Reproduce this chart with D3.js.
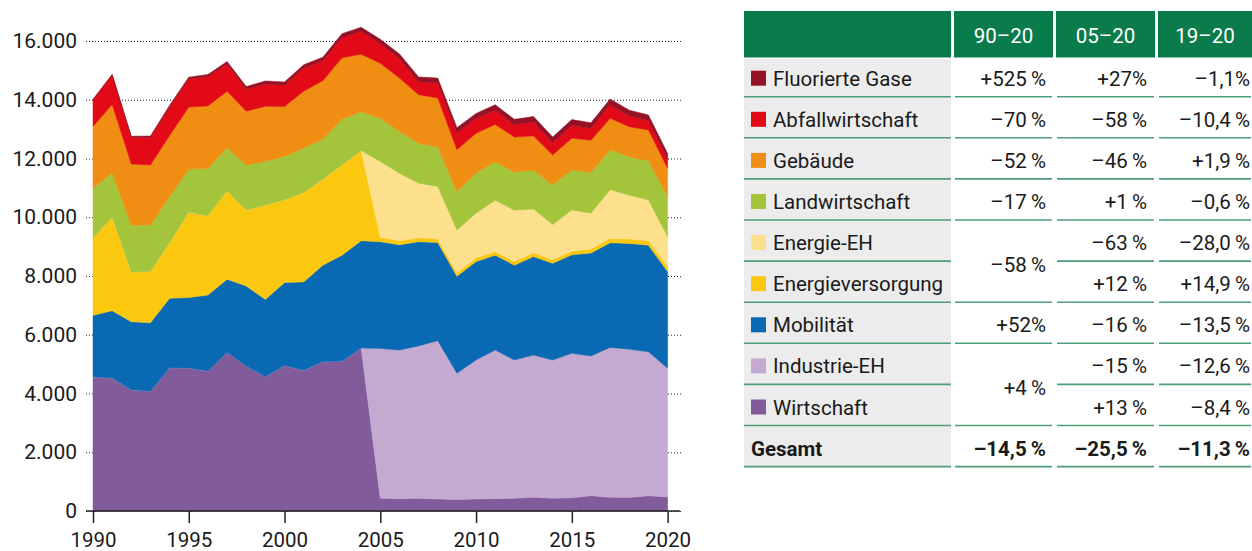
<!DOCTYPE html>
<html>
<head>
<meta charset="utf-8">
<script src="https://cdn.jsdelivr.net/npm/d3@7"></script>
<style>
  body { margin: 0; background: #fff; }
  svg text { font-family: Roboto, "Noto Sans", sans-serif; fill: #1a1a1a; }
</style>
</head>
<body>
<div id="chart"></div>
<script>
// years on the x axis
var years = [1990, 1991, 1992, 1993, 1994, 1995, 1996, 1997, 1998, 1999, 2000,
  2001, 2002, 2003, 2004, 2005, 2006, 2007, 2008, 2009, 2010,
  2011, 2012, 2013, 2014, 2015, 2016, 2017, 2018, 2019, 2020];

// emissions per sector (bottom to top of the stack)
var wirtschaft = [4570, 4530, 4130, 4080, 4880, 4870, 4770, 5400, 4940, 4570, 4950,
  4790, 5080, 5100, 5550, 430, 420, 430, 410, 390, 410,
  420, 430, 470, 430, 450, 520, 470, 460, 520, 480];
var industrieEH = [0, 0, 0, 0, 0, 0, 0, 0, 0, 0, 0,
  0, 0, 0, 0, 5100, 5060, 5190, 5390, 4300, 4730,
  5060, 4710, 4840, 4710, 4920, 4760, 5100, 5050, 4900, 4380];
var mobilitaet = [2090, 2290, 2310, 2330, 2360, 2400, 2580, 2490, 2720, 2630, 2830,
  3010, 3290, 3610, 3650, 3640, 3580, 3550, 3340, 3300, 3350,
  3230, 3230, 3350, 3290, 3350, 3500, 3560, 3600, 3630, 3290];
var energieversorgung = [2630, 3180, 1700, 1740, 1900, 2890, 2700, 3010, 2590, 3210, 2810,
  3040, 2920, 3070, 3070, 150, 140, 130, 130, 120, 130,
  120, 120, 130, 120, 130, 140, 150, 150, 150, 170];
var energieEH = [0, 0, 0, 0, 0, 0, 0, 0, 0, 0, 0,
  0, 0, 0, 0, 2580, 2300, 1860, 1780, 1460, 1520,
  1750, 1750, 1490, 1200, 1400, 1220, 1660, 1490, 1390, 1020];
var landwirtschaft = [1690, 1510, 1590, 1590, 1560, 1480, 1610, 1470, 1530, 1500, 1480,
  1510, 1370, 1560, 1320, 1470, 1420, 1360, 1340, 1310, 1360,
  1310, 1300, 1320, 1350, 1360, 1390, 1360, 1310, 1330, 1360];
var gebaeude = [2110, 2330, 2080, 2040, 2080, 2110, 2130, 1920, 1830, 1870, 1700,
  1940, 1990, 2090, 1960, 1870, 1820, 1650, 1670, 1420, 1360,
  1270, 1190, 1170, 1020, 1080, 1090, 1070, 1020, 1050, 970];
var abfall = [900, 990, 910, 940, 980, 960, 1000, 930, 750, 760, 730,
  790, 680, 690, 780, 670, 660, 440, 510, 580, 500,
  490, 420, 470, 420, 440, 400, 460, 370, 320, 310];
var fgase = [30, 35, 40, 45, 50, 60, 70, 80, 90, 100, 105,
  110, 120, 130, 140, 150, 160, 165, 170, 170, 175,
  180, 185, 190, 190, 195, 195, 195, 195, 190, 190];

// tick values
var yTicks = [0, 2000, 4000, 6000, 8000, 10000, 12000, 14000, 16000];
var xTicks = [1990, 1995, 2000, 2005, 2010, 2015, 2020];

// table contents
var tableHeads = ["90–20", "05–20", "19–20"];
var tableLabels = ["Fluorierte Gase", "Abfallwirtschaft", "Gebäude", "Landwirtschaft",
  "Energie-EH", "Energieversorgung", "Mobilität", "Industrie-EH", "Wirtschaft"];
var change9020 = ["+525\u2009%", "–70\u2009%", "–52\u2009%", "–17\u2009%", "–58\u2009%", null, "+52%", "+4\u2009%", null];
var change0520 = ["+27%", "–58\u2009%", "–46\u2009%", "+1\u2009%", "–63\u2009%", "+12\u2009%", "–16\u2009%", "–15\u2009%", "+13\u2009%"];
var change1920 = ["–1,1%", "–10,4\u2009%", "+1,9\u2009%", "–0,6\u2009%", "–28,0\u2009%", "+14,9\u2009%", "–13,5\u2009%", "–12,6\u2009%", "–8,4\u2009%"];
var totalLabel = "Gesamt";
var totalChange = ["–14,5\u2009%", "–25,5\u2009%", "–11,3\u2009%"];

// stack keys and colours
var keys = ["wirtschaft", "industrieEH", "mobilitaet", "energieversorgung", "energieEH",
  "landwirtschaft", "gebaeude", "abfall", "fgase"];
var colors = {
  wirtschaft: "#825b9a",
  industrieEH: "#c4aad0",
  mobilitaet: "#0a69b3",
  energieversorgung: "#fcc70f",
  energieEH: "#fde08c",
  landwirtschaft: "#a4c43c",
  gebaeude: "#f08e13",
  abfall: "#e20a17",
  fgase: "#941126"
};
// table order is top of stack first
var tableColors = ["#941126", "#e20a17", "#f08e13", "#a4c43c", "#fde08c", "#fcc70f", "#0a69b3", "#c4aad0", "#825b9a"];

var svgWidth = 1252;
var svgHeight = 551;

var svg = d3.select("#chart")
  .append("svg")
  .attr("width", svgWidth)
  .attr("height", svgHeight);

// building rows for the stack
var rows = years.map(function(yr, i) {
  return {
    year: yr,
    wirtschaft: wirtschaft[i],
    industrieEH: industrieEH[i],
    mobilitaet: mobilitaet[i],
    energieversorgung: energieversorgung[i],
    energieEH: energieEH[i],
    landwirtschaft: landwirtschaft[i],
    gebaeude: gebaeude[i],
    abfall: abfall[i],
    fgase: fgase[i]
  };
});

var series = d3.stack().keys(keys)(rows);

var x = d3.scaleLinear().domain([1990, 2020]).range([93, 667.6]);
var y = d3.scaleLinear().domain([0, 16000]).range([511, 41]);

var de = d3.formatLocale({ decimal: ",", thousands: ".", grouping: [3], currency: ["", " €"] });

// dotted gridlines + y labels
var yAxis = svg.append("g")
  .attr("transform", "translate(681,0)")
  .call(d3.axisLeft(y)
    .tickValues(yTicks)
    .tickSize(597)
    .tickPadding(7)
    .tickFormat(de.format(",d")));
yAxis.select(".domain").remove();
yAxis.selectAll(".tick line")
  .attr("stroke", "#222")
  .attr("stroke-dasharray", "1,2");
yAxis.selectAll(".tick text")
  .attr("font-size", "21px")
  .attr("font-family", "Roboto, sans-serif")
  .attr("fill", "#1a1a1a");

// stacked areas
var area = d3.area()
  .x(function(d) { return x(d.data.year); })
  .y0(function(d) { return y(d[0]); })
  .y1(function(d) { return y(d[1]); });

svg.append("g")
  .selectAll("path")
  .data(series)
  .enter()
  .append("path")
  .attr("d", area)
  .attr("fill", function(d) { return colors[d.key]; })
  .attr("stroke", function(d) { return colors[d.key]; })
  .attr("stroke-width", 0.5);

// x axis
svg.append("line")
  .attr("x1", 86)
  .attr("x2", 680)
  .attr("y1", y(0))
  .attr("y2", y(0))
  .attr("stroke", "#222")
  .attr("stroke-width", 1.5);

var xAxis = svg.append("g")
  .attr("transform", "translate(0," + y(0) + ")")
  .call(d3.axisBottom(x)
    .tickValues(xTicks)
    .tickSize(12)
    .tickPadding(9)
    .tickFormat(d3.format("d")));
xAxis.select(".domain").remove();
xAxis.selectAll(".tick line")
  .attr("stroke", "#222")
  .attr("stroke-width", 1.5);
xAxis.selectAll(".tick text")
  .attr("font-size", "20.5px")
  .attr("font-family", "Roboto, sans-serif")
  .attr("fill", "#1a1a1a");

// ---------- table ----------
var green = "#0a7b4b";
var lineColor = "#4c9f76";
var cols = [
  { x0: 744, x1: 951 },
  { x0: 954, x1: 1053 },
  { x0: 1056, x1: 1155 },
  { x0: 1158, x1: 1252 }
];
var headTop = 11;
var headBottom = 57.5;
var firstLine = 96.7;
var rowStep = 41.1;
var nRows = tableLabels.length + 1;

function lineY(i) { return firstLine + rowStep * i; }
function rowCenter(i) { return lineY(i) - 19.5; }

var table = svg.append("g");

// header cells
table.selectAll("rect.head")
  .data(cols)
  .enter()
  .append("rect")
  .attr("class", "head")
  .attr("x", function(d) { return d.x0; })
  .attr("y", headTop)
  .attr("width", function(d) { return d.x1 - d.x0; })
  .attr("height", headBottom - headTop)
  .attr("fill", green);

table.selectAll("text.head")
  .data(tableHeads)
  .enter()
  .append("text")
  .attr("class", "head")
  .attr("x", function(d, i) { return (cols[i + 1].x0 + cols[i + 1].x1) / 2; })
  .attr("y", 43)
  .attr("text-anchor", "middle")
  .attr("font-size", "20.5px")
  .style("fill", "#fff")
  .text(function(d) { return d; });

// grey background of label column
table.append("rect")
  .attr("x", cols[0].x0)
  .attr("y", headBottom + 1.5)
  .attr("width", cols[0].x1 - cols[0].x0)
  .attr("height", lineY(nRows - 1) - headBottom - 1.5)
  .attr("fill", "#ececec");

// row separator lines (merged cells skip col 1)
var merged = [4, 7];
for (var r = 0; r < nRows; r++) {
  cols.forEach(function(c, ci) {
    if (ci === 1 && merged.indexOf(r) >= 0) return;
    table.append("line")
      .attr("x1", ci === 0 ? c.x0 : c.x0 + 1)
      .attr("x2", ci === 0 ? c.x1 : c.x1 - 1)
      .attr("y1", lineY(r))
      .attr("y2", lineY(r))
      .attr("stroke", lineColor)
      .attr("stroke-width", 1.6);
  });
}

// colour squares
table.selectAll("rect.key")
  .data(tableColors)
  .enter()
  .append("rect")
  .attr("class", "key")
  .attr("x", 751)
  .attr("y", function(d, i) { return rowCenter(i) + 8.5 - 15; })
  .attr("width", 15)
  .attr("height", 15)
  .attr("fill", function(d) { return d; });

// labels
table.selectAll("text.label")
  .data(tableLabels)
  .enter()
  .append("text")
  .attr("class", "label")
  .attr("x", 773)
  .attr("y", function(d, i) { return rowCenter(i) + 8.5; })
  .attr("font-size", "20.5px")
  .text(function(d) { return d; });

table.append("text")
  .attr("x", 751)
  .attr("y", rowCenter(nRows - 1) + 8.5)
  .attr("font-size", "20.5px")
  .attr("font-weight", "bold")
  .text(totalLabel);

// value columns
var valueCols = [change9020, change0520, change1920];
var rightEdge = [1046, 1147, 1250];
valueCols.forEach(function(vals, ci) {
  vals.forEach(function(v, ri) {
    if (v === null) return;
    var yy = rowCenter(ri) + 8.5;
    if (ci === 0 && merged.indexOf(ri) >= 0) yy = lineY(ri) + 10.5;
    table.append("text")
      .attr("x", rightEdge[ci])
      .attr("y", yy)
      .attr("text-anchor", "end")
      .attr("font-size", "20.5px")
      .text(v);
  });
  table.append("text")
    .attr("x", rightEdge[ci])
    .attr("y", rowCenter(nRows - 1) + 8.5)
    .attr("text-anchor", "end")
    .attr("font-size", "20.5px")
    .attr("font-weight", "bold")
    .text(totalChange[ci]);
});
</script>
</body>
</html>
